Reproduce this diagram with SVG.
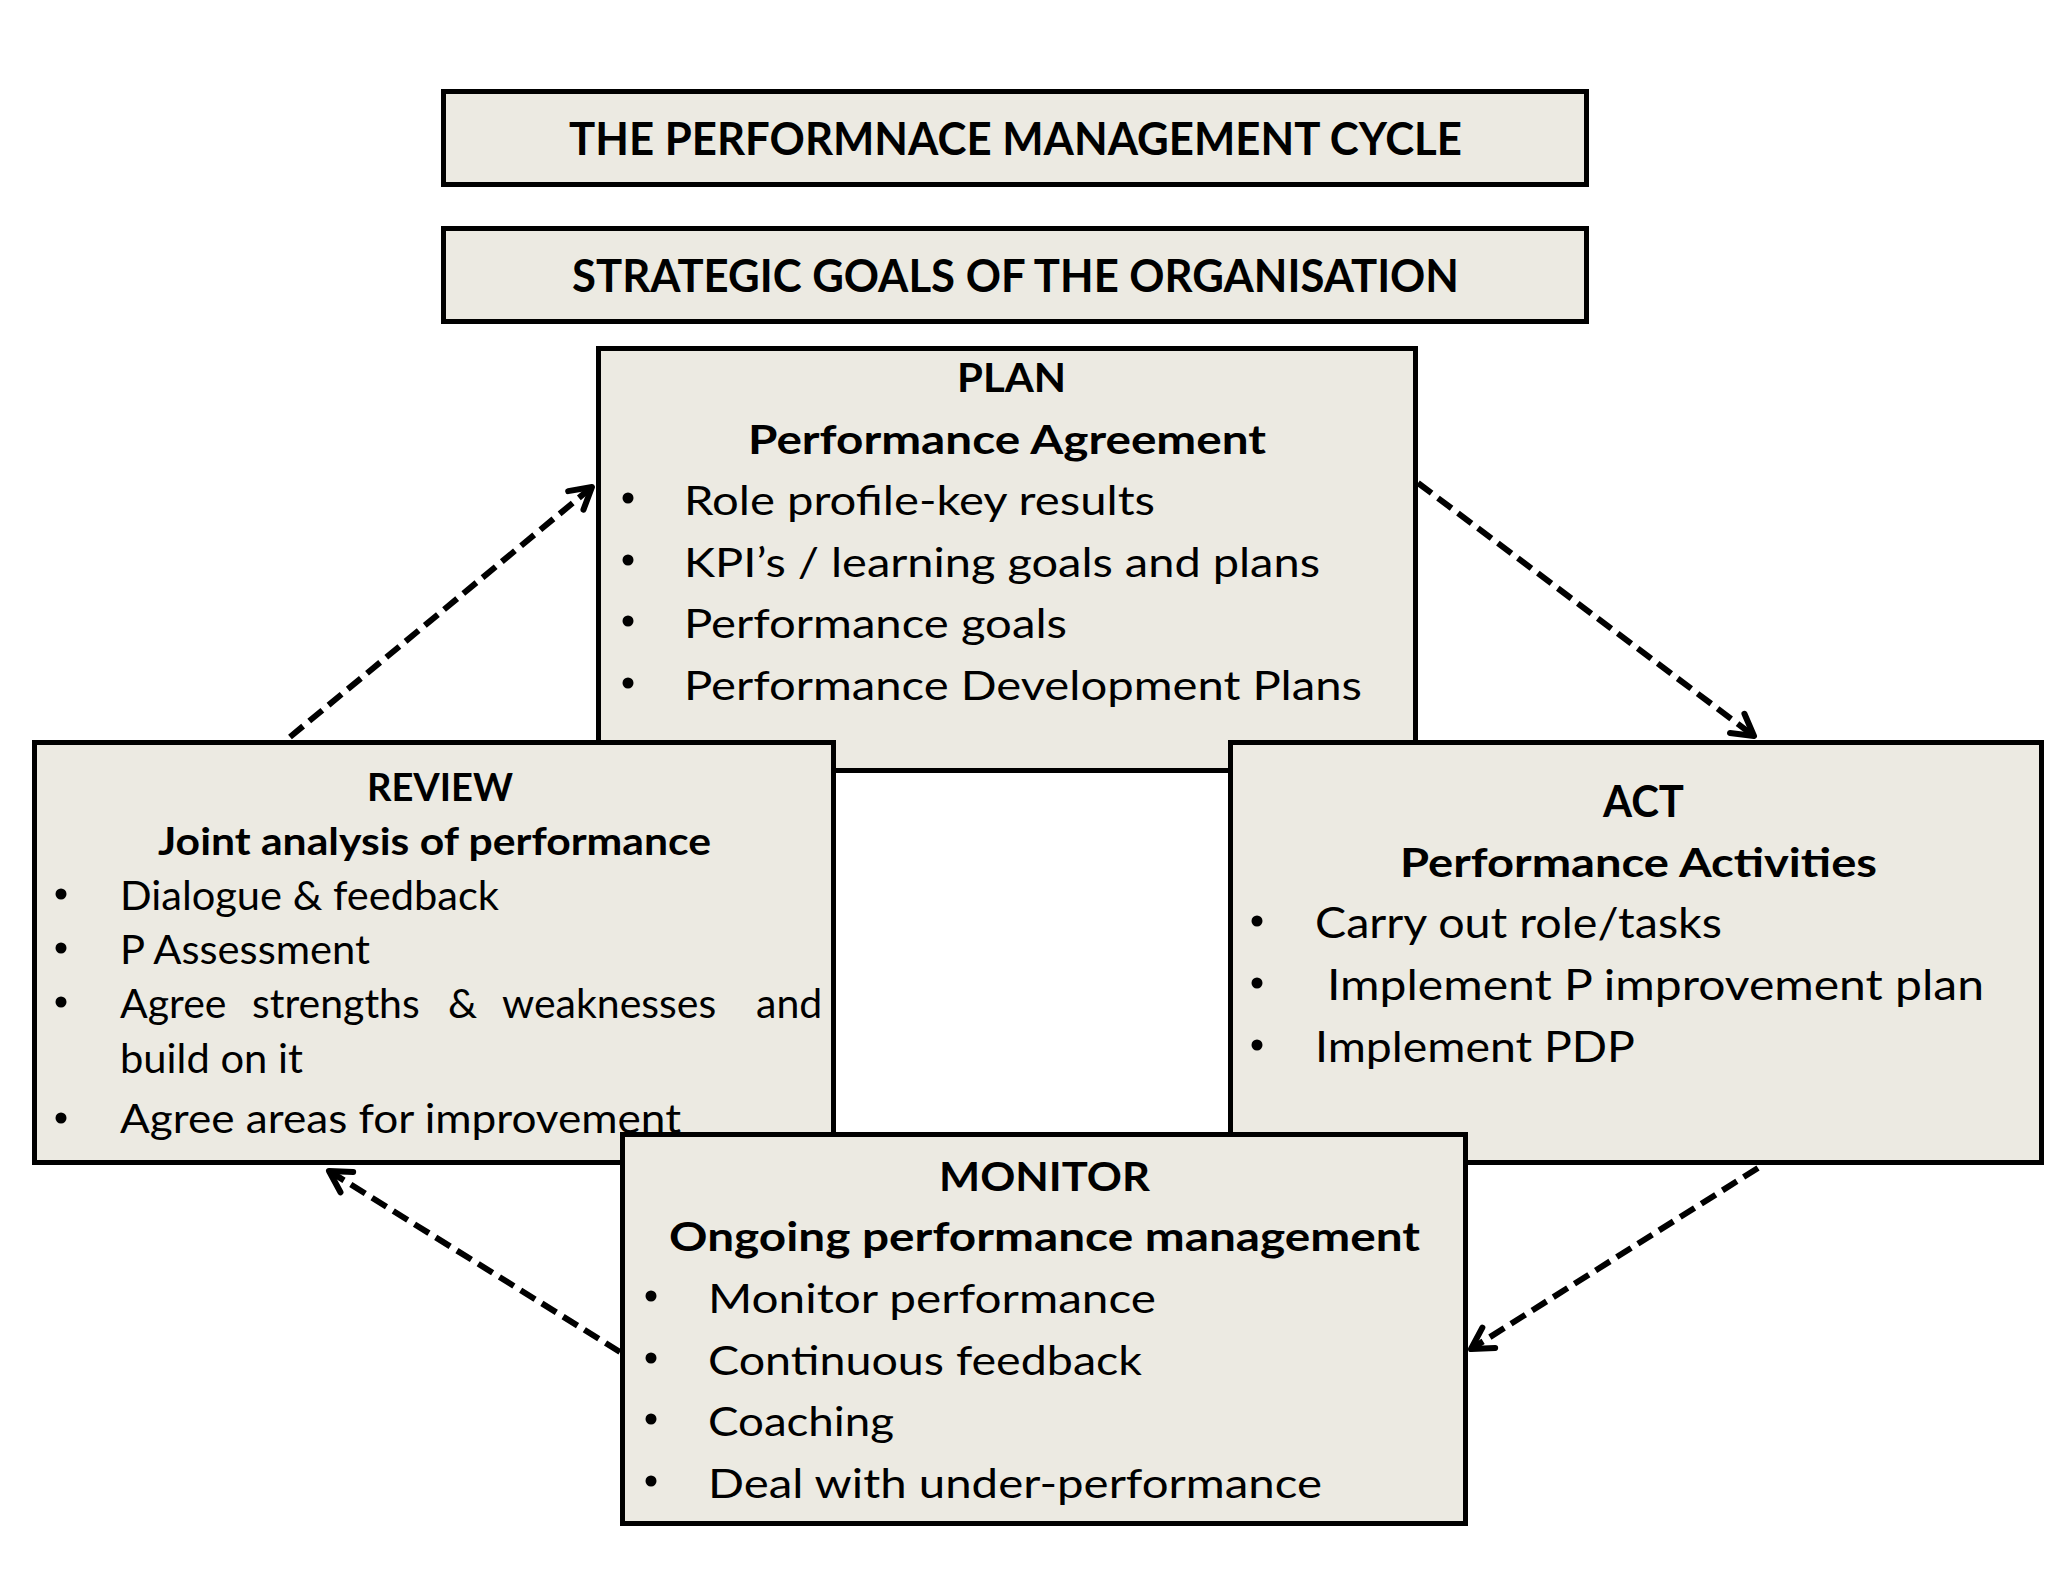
<svg xmlns="http://www.w3.org/2000/svg" width="2048" height="1582" viewBox="0 0 2048 1582">
<defs>
<style>
.box{fill:#ECEAE2;stroke:#000;stroke-width:5}
.t{font-family:Lato,"Open Sans","Liberation Sans",sans-serif;fill:#000}
.h{font-weight:bold}
.b{font-size:41px}
.hd{font-size:41px}
.ttl{font-size:45px;font-weight:bold}
.dot{fill:#000}
.con{fill:none;stroke:#000;stroke-width:6;stroke-dasharray:17 8}
</style>
<marker id="arr" markerUnits="userSpaceOnUse" markerWidth="40" markerHeight="40" viewBox="-30 -20 40 40" refX="0" refY="0" orient="auto">
<path d="M-21,-12 L0,0 L-21,12" fill="none" stroke="#000" stroke-width="6" stroke-linecap="round" stroke-linejoin="round"/>
</marker>
</defs>
<rect width="2048" height="1582" fill="#fff"/>

<g id="title">
<rect class="box" x="443.5" y="91.5" width="1143" height="93"/>
<text class="t ttl" x="569" y="155" textLength="893" lengthAdjust="spacingAndGlyphs">THE PERFORMNACE MANAGEMENT CYCLE</text>
</g>

<g id="strategic">
<rect class="box" x="443.5" y="228.5" width="1143" height="93"/>
<text class="t ttl" x="572" y="292" textLength="887" lengthAdjust="spacingAndGlyphs">STRATEGIC GOALS OF THE ORGANISATION</text>
</g>

<g id="plan">
<rect class="box" x="598.5" y="348.5" width="817" height="422"/>
<text class="t h hd" x="957" y="392" textLength="109" lengthAdjust="spacingAndGlyphs">PLAN</text>
<text class="t h hd" x="748" y="454" textLength="518" lengthAdjust="spacingAndGlyphs">Performance Agreement</text>
<circle class="dot" cx="628" cy="498" r="5.5"/>
<circle class="dot" cx="628" cy="560" r="5.5"/>
<circle class="dot" cx="628" cy="621" r="5.5"/>
<circle class="dot" cx="628" cy="683" r="5.5"/>
<text class="t b" x="684" y="515" textLength="471" lengthAdjust="spacingAndGlyphs">Role profile-key results</text>
<text class="t b" x="684" y="577" textLength="636" lengthAdjust="spacingAndGlyphs">KPI’s / learning goals and plans</text>
<text class="t b" x="684" y="638" textLength="383" lengthAdjust="spacingAndGlyphs">Performance goals</text>
<text class="t b" x="684" y="700" textLength="678" lengthAdjust="spacingAndGlyphs">Performance Development Plans</text>
</g>

<g id="review">
<rect class="box" x="34.5" y="742.5" width="799" height="420"/>
<text class="t h" font-size="38" x="367" y="801" textLength="146" lengthAdjust="spacingAndGlyphs">REVIEW</text>
<text class="t h" font-size="38" x="158" y="855" textLength="553" lengthAdjust="spacingAndGlyphs">Joint analysis of performance</text>
<circle class="dot" cx="61" cy="894" r="5.5"/>
<circle class="dot" cx="61" cy="948" r="5.5"/>
<circle class="dot" cx="61" cy="1002" r="5.5"/>
<circle class="dot" cx="61" cy="1118" r="5.5"/>
<text class="t b" x="120" y="910" textLength="379" lengthAdjust="spacingAndGlyphs">Dialogue &amp; feedback</text>
<text class="t b" x="120" y="964" textLength="250" lengthAdjust="spacingAndGlyphs">P Assessment</text>
<text class="t b" y="1018"><tspan x="120">Agree</tspan> <tspan x="252">strengths</tspan> <tspan x="448">&amp;</tspan> <tspan x="502">weaknesses</tspan> <tspan x="756">and</tspan></text>
<text class="t b" x="120" y="1073" textLength="183" lengthAdjust="spacingAndGlyphs">build on it</text>
<text class="t b" x="120" y="1133" textLength="561" lengthAdjust="spacingAndGlyphs">Agree areas for improvement</text>
</g>

<g id="act">
<rect class="box" x="1230.5" y="742.5" width="811" height="420"/>
<text class="t h" font-size="44" x="1603" y="817" textLength="81" lengthAdjust="spacingAndGlyphs">ACT</text>
<text class="t h hd" x="1400" y="877" textLength="477" lengthAdjust="spacingAndGlyphs">Performance Activities</text>
<circle class="dot" cx="1257" cy="921" r="5.5"/>
<circle class="dot" cx="1257" cy="983" r="5.5"/>
<circle class="dot" cx="1257" cy="1045" r="5.5"/>
<text class="t" font-size="42" x="1315" y="938" textLength="407" lengthAdjust="spacingAndGlyphs">Carry out role/tasks</text>
<text class="t" font-size="42" x="1327" y="1000" textLength="657" lengthAdjust="spacingAndGlyphs">Implement P improvement plan</text>
<text class="t" font-size="42" x="1315" y="1062" textLength="320" lengthAdjust="spacingAndGlyphs">Implement PDP</text>
</g>

<g id="monitor">
<rect class="box" x="622.5" y="1134.5" width="843" height="389"/>
<text class="t h hd" x="939" y="1191" textLength="211" lengthAdjust="spacingAndGlyphs">MONITOR</text>
<text class="t h hd" x="669" y="1251" textLength="751" lengthAdjust="spacingAndGlyphs">Ongoing performance management</text>
<circle class="dot" cx="651" cy="1296" r="5.5"/>
<circle class="dot" cx="651" cy="1358" r="5.5"/>
<circle class="dot" cx="651" cy="1419" r="5.5"/>
<circle class="dot" cx="651" cy="1481" r="5.5"/>
<text class="t b" x="708" y="1313" textLength="448" lengthAdjust="spacingAndGlyphs">Monitor performance</text>
<text class="t b" x="708" y="1375" textLength="434" lengthAdjust="spacingAndGlyphs">Continuous feedback</text>
<text class="t b" x="708" y="1436" textLength="186" lengthAdjust="spacingAndGlyphs">Coaching</text>
<text class="t b" x="708" y="1498" textLength="614" lengthAdjust="spacingAndGlyphs">Deal with under-performance</text>
</g>

<g id="connectors">
<line class="con" x1="290" y1="737" x2="592" y2="487" marker-end="url(#arr)"/>
<line class="con" x1="1418" y1="483" x2="1754" y2="736" marker-end="url(#arr)"/>
<line class="con" x1="1758" y1="1168" x2="1471" y2="1349" marker-end="url(#arr)"/>
<line class="con" x1="620" y1="1352" x2="329" y2="1171" marker-end="url(#arr)"/>
</g>
</svg>
